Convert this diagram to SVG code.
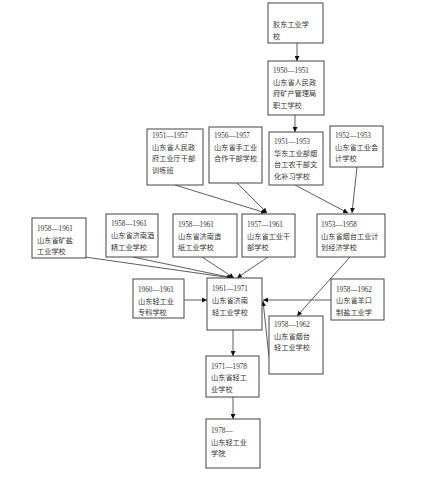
<svg xmlns="http://www.w3.org/2000/svg" width="440" height="479" viewBox="0 0 440 479">
<style>
.box{fill:#fff;stroke:#444;stroke-width:1}
.t{font-family:"Liberation Serif","Noto Sans CJK SC",serif;font-size:7.2px;fill:#333}
.c{fill:none;stroke:#333;stroke-width:0.8;marker-end:url(#ah)}
</style>
<defs>
<marker id="ah" viewBox="0 0 10 10" refX="10" refY="5" markerWidth="5" markerHeight="5" markerUnits="userSpaceOnUse" orient="auto">
<path d="M0,0 L10,5 L0,10 z" fill="#111"/>
</marker>
</defs>
<rect width="440" height="479" fill="#fff"/>
<g id="connectors">
<line class="c" x1="297" y1="43" x2="297" y2="61"/>
<line class="c" x1="295" y1="115" x2="295" y2="132"/>
<line class="c" x1="175" y1="185" x2="266" y2="213"/>
<line class="c" x1="237" y1="183" x2="267" y2="213"/>
<line class="c" x1="295" y1="185" x2="348" y2="213"/>
<line class="c" x1="357" y1="167" x2="352" y2="213"/>
<line class="c" x1="85" y1="257" x2="232" y2="278"/>
<line class="c" x1="133" y1="257" x2="233" y2="278"/>
<line class="c" x1="202" y1="257" x2="234" y2="278"/>
<line class="c" x1="268" y1="257" x2="237" y2="278"/>
<line class="c" x1="350" y1="257" x2="297" y2="316"/>
<line class="c" x1="184" y1="300" x2="207" y2="300"/>
<line class="c" x1="331" y1="300" x2="263" y2="300"/>
<line class="c" x1="269" y1="357" x2="263" y2="301"/>
<line class="c" x1="233" y1="330" x2="233" y2="356"/>
<line class="c" x1="233" y1="397" x2="233" y2="419"/>
</g>
<g id="n1"><rect class="box" x="268" y="3" width="55" height="40"/><text class="t" x="273" y="27">胶东工业学</text><text class="t" x="273" y="38.5">校</text></g>
<g id="n2"><rect class="box" x="268" y="61" width="56" height="54"/><text class="t" x="273" y="73">1950—1951</text><text class="t" x="273" y="84.5">山东省人民政</text><text class="t" x="273" y="96">府矿产管理局</text><text class="t" x="273" y="107.5">职工学校</text></g>
<g id="n3"><rect class="box" x="147" y="129" width="56" height="56"/><text class="t" x="152" y="138">1951—1957</text><text class="t" x="152" y="149.5">山东省人民政</text><text class="t" x="152" y="161">府工业厅干部</text><text class="t" x="152" y="172.5">训练班</text></g>
<g id="n4"><rect class="box" x="209" y="127" width="53" height="56"/><text class="t" x="214" y="138">1956—1957</text><text class="t" x="214" y="149.5">山东省手工业</text><text class="t" x="214" y="161">合作干部学校</text></g>
<g id="n5"><rect class="box" x="269" y="132" width="54" height="53"/><text class="t" x="274" y="144">1951—1953</text><text class="t" x="274" y="155.5">华东工业部烟</text><text class="t" x="274" y="167">台工农干部文</text><text class="t" x="274" y="178.5">化补习学校</text></g>
<g id="n6"><rect class="box" x="330" y="126" width="53" height="41"/><text class="t" x="335" y="138">1952—1953</text><text class="t" x="335" y="149.5">山东省工业会</text><text class="t" x="335" y="161">计学校</text></g>
<g id="n7"><rect class="box" x="32" y="218" width="54" height="40"/><text class="t" x="37" y="231">1958—1961</text><text class="t" x="37" y="242.5">山东省矿盐</text><text class="t" x="37" y="254">工业学校</text></g>
<g id="n8"><rect class="box" x="106" y="214" width="52" height="43"/><text class="t" x="111" y="226">1958—1961</text><text class="t" x="111" y="238">山东省济南酒</text><text class="t" x="111" y="249.5">精工业学校</text></g>
<g id="n9"><rect class="box" x="173" y="214" width="64" height="43"/><text class="t" x="178" y="227">1958—1961</text><text class="t" x="178" y="238.5">山东省济南造</text><text class="t" x="178" y="250">纸工业学校</text></g>
<g id="n10"><rect class="box" x="242" y="214" width="53" height="43"/><text class="t" x="247" y="227">1957—1961</text><text class="t" x="247" y="238.5">山东省工业干</text><text class="t" x="247" y="250">部学校</text></g>
<g id="n11"><rect class="box" x="317" y="214" width="68" height="43"/><text class="t" x="321" y="227">1953—1958</text><text class="t" x="321" y="238.5">山东省烟台工业计</text><text class="t" x="321" y="250">划经济学校</text></g>
<g id="n12"><rect class="box" x="133" y="279" width="51" height="39"/><text class="t" x="138" y="292">1960—1961</text><text class="t" x="138" y="303.5">山东轻工业</text><text class="t" x="138" y="315">专科学校</text></g>
<g id="n13"><rect class="box" x="207" y="278" width="55" height="52"/><text class="t" x="212" y="291">1961—1971</text><text class="t" x="212" y="303">山东省济南</text><text class="t" x="212" y="315">轻工业学校</text></g>
<g id="n14"><rect class="box" x="331" y="279" width="53" height="41"/><text class="t" x="336" y="291.5">1958—1962</text><text class="t" x="336" y="303">山东省羊口</text><text class="t" x="336" y="315">制盐工业学</text></g>
<g id="n15"><rect class="box" x="269" y="316" width="54" height="58"/><text class="t" x="274" y="327">1958—1962</text><text class="t" x="274" y="338.5">山东省烟台</text><text class="t" x="274" y="350">轻工业学校</text></g>
<g id="n16"><rect class="box" x="206" y="356" width="53" height="41"/><text class="t" x="211" y="368.5">1971—1978</text><text class="t" x="211" y="380">山东省轻工</text><text class="t" x="211" y="391.5">业学校</text></g>
<g id="n17"><rect class="box" x="206" y="419" width="54" height="49"/><text class="t" x="211" y="433">1978—</text><text class="t" x="211" y="444.5">山东轻工业</text><text class="t" x="211" y="456">学院</text></g>
</svg>
